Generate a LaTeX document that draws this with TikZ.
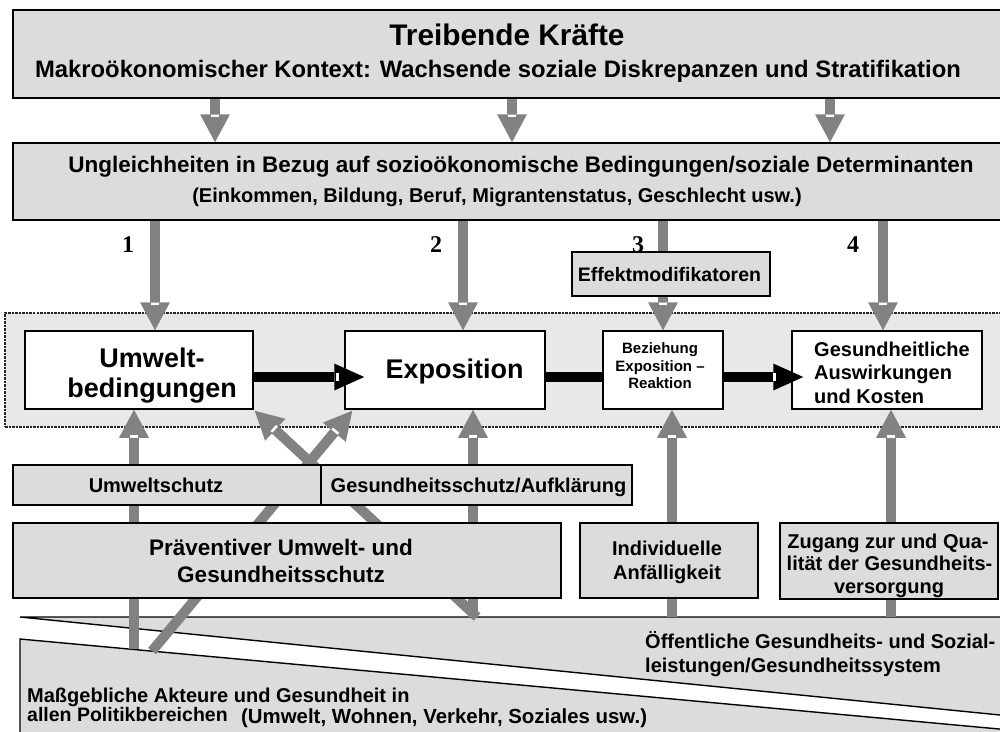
\documentclass[tikz,border=0pt]{standalone}
\usepackage{fontspec}
\setmainfont{Liberation Sans}
\newfontfamily\numfont{Liberation Serif}
\usetikzlibrary{arrows.meta,calc}
\pgfdeclarelayer{back}\pgfdeclarelayer{mid}\pgfsetlayers{back,mid,main}
\definecolor{boxgray}{HTML}{DCDCDC}
\definecolor{regiongray}{HTML}{E8E8E8}
\definecolor{arrowgray}{HTML}{828282}
\newcommand\fsz[2]{\fontsize{#1}{#2}\selectfont\bfseries}
\newcommand\garr[2]{\draw[garrow] (#1) -- (#2);
  \path ($(#2)!26.5pt!(#1)$) -- (#2) node[pos=0,sloped,gtick]{};}
\newcommand\barr[3]{\draw[barrow] (#1) -- (#2);
  \path ($(#2)!#3!(#1)$) -- (#2) node[pos=0,sloped,btick]{};}
\begin{document}
\begin{tikzpicture}[x=1pt,y=-1pt,
  gbox/.style={draw=black,line width=1.5pt,fill=boxgray,inner sep=0pt},
  wbox/.style={gbox,fill=white},
  lbl/.style={inner sep=0pt,anchor=base},
  lblw/.style={inner sep=0pt,anchor=base west},
  garrow/.style={draw=arrowgray,line width=10pt,-{Triangle[width=30pt,length=28pt,line width=0pt]}},
  barrow/.style={draw=black,line width=10pt,-{Triangle[width=27pt,length=30pt,line width=0pt]}},
  bline/.style={draw=black,line width=10pt},
  gtick/.style={fill=white,inner sep=0pt,minimum width=2.5pt,minimum height=8pt},
  btick/.style={fill=white,inner sep=0pt,minimum width=3.5pt,minimum height=8pt},
  region/.style={draw=black!85,line width=1.6pt,dash pattern=on 2.5pt off 1pt,fill=regiongray,inner sep=0pt},
  poly/.style={draw=black,line width=1.4pt,fill=boxgray},
  numlbl/.style={inner sep=0pt,anchor=base,font=\numfont\fontsize{24}{24}\selectfont\bfseries}]
\useasboundingbox (0,0) rectangle (1000,731);
\clip (0,0) rectangle (1000,731);

% ---------- background layer: policy wedges and dashed region
\begin{pgfonlayer}{back}
  \path[poly] (20,617) -- (1010,617) -- (1010,716) -- cycle;
  \path[poly] (20,639) -- (1010,730) -- (1010,745) -- (20,745) -- cycle;
  \node[region,minimum width=1010pt,minimum height=114pt] (reg) at (510,370) {};
\end{pgfonlayer}

% ---------- boxes
\node[gbox,minimum width=997pt,minimum height=88pt] (top) at (511.5,54) {};
\node[lbl,font={\fsz{29.8}{32}}] (toptitle) at (507,45) {Treibende Kräfte};
\node[lbl,font={\fsz{23.8}{26}}] (topsub) at (498,77.5) {Makroökonomischer Kontext: Wachsende soziale Diskrepanzen und Stratifikation};

\node[gbox,minimum width=997pt,minimum height=77pt] (ung) at (511.5,181.5) {};
\node[lbl,font={\fsz{22.5}{25}}] (ungt1) at (521,172) {Ungleichheiten in Bezug auf sozioökonomische Bedingungen/soziale Determinanten};
\node[lbl,font={\fsz{20}{22}}] (ungt2) at (497,202) {(Einkommen, Bildung, Beruf, Migrantenstatus, Geschlecht usw.)};

\node[numlbl] (n1) at (128,252) {1};
\node[numlbl] (n2) at (436,252) {2};
\node[numlbl] (n3) at (638,252) {3};
\node[numlbl] (n4) at (853,252) {4};

\node[gbox,minimum width=198pt,minimum height=44pt] (eff) at (671,274) {};
\node[lbl,font={\fsz{19.5}{22}}] (efft) at (669.5,281) {Effektmodifikatoren};

\node[wbox,minimum width=228pt,minimum height=78pt] (umw) at (139,370) {};
\node[lbl,font={\fsz{27}{30}}] (umwt1) at (152,367) {Umwelt-};
\node[lbl,font={\fsz{27}{30}}] (umwt2) at (152,397) {bedingungen};

\node[wbox,minimum width=200pt,minimum height=78pt] (expo) at (445,370) {};
\node[lbl,font={\fsz{27}{30}}] (expot) at (454.5,378) {Exposition};

\node[wbox,minimum width=120pt,minimum height=78pt] (bez) at (663,370) {};
\node[lbl,font={\fsz{15}{17}}] (bezt1) at (660,353) {Beziehung};
\node[lbl,font={\fsz{15}{17}}] (bezt2) at (660,371) {Exposition –};
\node[lbl,font={\fsz{15}{17}}] (bezt3) at (660,388) {Reaktion};

\node[wbox,minimum width=190pt,minimum height=78pt] (ges) at (887,370) {};
\node[lblw,font={\fsz{20}{22}}] (gest1) at (814,356) {Gesundheitliche};
\node[lblw,font={\fsz{20}{22}}] (gest2) at (814,379.5) {Auswirkungen};
\node[lblw,font={\fsz{20}{22}}] (gest3) at (814,403) {und Kosten};

\node[gbox,minimum width=308pt,minimum height=40pt] (usch) at (167,485) {};
\node[lbl,font={\fsz{20}{22}}] (uscht) at (156,492) {Umweltschutz};
\node[gbox,minimum width=311pt,minimum height=40pt] (gsch) at (476.5,485) {};
\node[lbl,font={\fsz{20}{22}}] (gscht) at (478.5,492) {Gesundheitsschutz/Aufklärung};

\node[gbox,minimum width=548pt,minimum height=75pt] (praev) at (287,560.5) {};
\node[lbl,font={\fsz{22.5}{25}}] (praevt1) at (281,555) {Präventiver Umwelt- und};
\node[lbl,font={\fsz{22.5}{25}}] (praevt2) at (281,582) {Gesundheitsschutz};

\node[gbox,minimum width=178pt,minimum height=75pt] (indiv) at (669,560.5) {};
\node[lbl,font={\fsz{20}{22}}] (indivt1) at (667,555) {Individuelle};
\node[lbl,font={\fsz{20}{22}}] (indivt2) at (667,579) {Anfälligkeit};

\node[gbox,minimum width=218pt,minimum height=76pt] (zug) at (889,561) {};
\node[lbl,font={\fsz{20}{22}}] (zugt1) at (888,548) {Zugang zur und Qua-};
\node[lbl,font={\fsz{20}{22}}] (zugt2) at (889.5,570.5) {lität der Gesundheits-};
\node[lbl,font={\fsz{20}{22}}] (zugt3) at (889,593) {versorgung};

\node[lblw,font={\fsz{20}{22}}] (oef1) at (645,648) {Öffentliche Gesundheits- und Sozial-};
\node[lblw,font={\fsz{20}{22}}] (oef2) at (645,672) {leistungen/Gesundheitssystem};
\node[lblw,font={\fsz{20}{22}}] (mas1) at (27,702) {Maßgebliche Akteure und Gesundheit in};
\node[lblw,font={\fsz{19.5}{22}}] (mas2) at (27,721) {allen Politikbereichen};
\node[lblw,font={\fsz{20.4}{22}}] (mas3) at (241,723) {(Umwelt, Wohnen, Verkehr, Soziales usw.)};

% ---------- connector positions
\coordinate (ax1) at (215,0);
\coordinate (ax2) at (512,0);
\coordinate (ax3) at (830,0);
\coordinate (dx1) at (155,0);
\coordinate (dx2) at (463,0);
\coordinate (dx3) at (663,0);
\coordinate (dx4) at (883,0);
\coordinate (f1) at (134,649);
\coordinate (f2) at (473,617);
\coordinate (f3) at (672,617);
\coordinate (f4) at (891,617);
\coordinate (f5) at (152,651);
\coordinate (f6) at (477,617);
\coordinate (by) at (0,377);
\coordinate (tipR) at ($(expo.south west)+(8,1)$);
\coordinate (tipL) at ($(umw.south east)+(1,1)$);

% ---------- gray arrows (behind boxes)
\begin{pgfonlayer}{mid}
  \garr{top.south -| ax1}{ung.north -| ax1}
  \garr{top.south -| ax2}{ung.north -| ax2}
  \garr{top.south -| ax3}{ung.north -| ax3}
  \garr{ung.south -| dx1}{umw.north -| dx1}
  \garr{ung.south -| dx2}{expo.north -| dx2}
  \garr{ung.south -| dx3}{bez.north -| dx3}
  \garr{ung.south -| dx4}{ges.north -| dx4}
  \garr{f1}{umw.south -| f1}
  \garr{f2}{expo.south -| f2}
  \garr{f3}{bez.south -| f3}
  \garr{f4}{ges.south -| f4}
  \garr{f5}{tipR}
  \garr{f6}{tipL}
\end{pgfonlayer}

% ---------- black pathway
\barr{umw.east |- by}{$(expo.west |- by)+(20,0)$}{27pt}
\draw[bline] (expo.east |- by) -- (bez.west |- by);
\barr{bez.east |- by}{$(ges.west |- by)+(12,0)$}{29pt}
\end{tikzpicture}
\end{document}
